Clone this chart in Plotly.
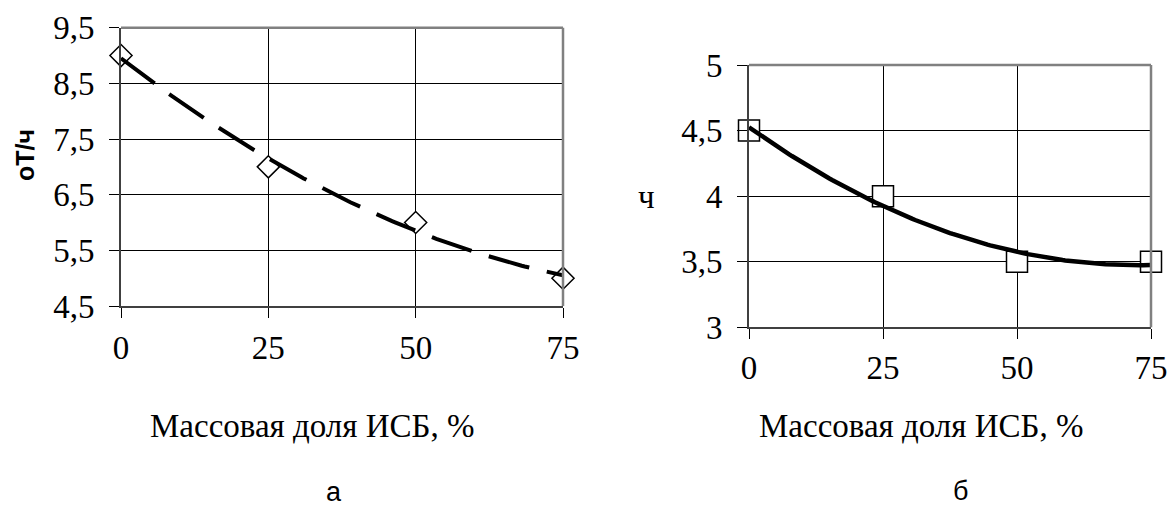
import numpy as np
import plotly.graph_objects as go

# ---- data ----
x_share = [0, 25, 50, 75]                 # Массовая доля ИСБ, %
y_left = [9.0, 7.0, 6.0, 5.0]             # оТ/ч
y_right = [4.5, 4.0, 3.5, 3.5]            # ч

x_ticks = [0, 25, 50, 75]
x_ticktext = ["0", "25", "50", "75"]
yl_ticks = [4.5, 5.5, 6.5, 7.5, 8.5, 9.5]
yl_ticktext = ["4,5", "5,5", "6,5", "7,5", "8,5", "9,5"]
yr_ticks = [3, 3.5, 4, 4.5, 5]
yr_ticktext = ["3", "3,5", "4", "4,5", "5"]

W, H = 1169, 508

def px(v):
    return v / W

def py(v):
    return 1 - v / H

# polynomial (2nd order) trendlines computed from the data, as in the source chart
xs = np.linspace(0, 75, 151)
fit_l = np.polyval(np.polyfit(x_share, y_left, 2), xs)
fit_r = np.polyval(np.polyfit(x_share, y_right, 2), xs)

SERIF = "Liberation Serif"
SANS = "Liberation Sans"
FS = 33

fig = go.Figure()

fig.add_trace(go.Scatter(
    x=x_share, y=y_left, mode="markers", xaxis="x", yaxis="y",
    marker=dict(symbol="diamond", size=17, color="white",
                line=dict(color="black", width=1.5)),
    cliponaxis=False, showlegend=False))
fig.add_trace(go.Scatter(
    x=xs, y=fit_l, mode="lines", xaxis="x", yaxis="y",
    line=dict(color="black", width=4, dash="42px,18px"),
    cliponaxis=False, showlegend=False))

fig.add_trace(go.Scatter(
    x=x_share, y=y_right, mode="markers", xaxis="x2", yaxis="y2",
    marker=dict(symbol="square", size=21, color="white",
                line=dict(color="black", width=1.5)),
    cliponaxis=False, showlegend=False))
fig.add_trace(go.Scatter(
    x=xs, y=fit_r, mode="lines", xaxis="x2", yaxis="y2",
    line=dict(color="black", width=4.5),
    cliponaxis=False, showlegend=False))

axis_common = dict(
    showgrid=True, gridcolor="black", gridwidth=1,
    showline=True, linecolor="#404040", linewidth=2,
    ticks="outside", ticklen=10, tickwidth=1, tickcolor="black",
    tickfont=dict(family=SERIF, size=FS, color="black"),
    zeroline=False, automargin=False, fixedrange=True,
)

fig.update_layout(
    width=W, height=H,
    margin=dict(l=0, r=0, t=0, b=0),
    paper_bgcolor="white", plot_bgcolor="white",
    showlegend=False,
    xaxis=dict(axis_common, domain=[px(121), px(563)], range=[0, 75],
               tickvals=x_ticks, ticktext=x_ticktext, anchor="y",
               ticklabelstandoff=1),
    yaxis=dict(axis_common, domain=[py(306), py(27.7)], range=[4.5, 9.5],
               tickvals=yl_ticks, ticktext=yl_ticktext, anchor="x",
               ticklabelstandoff=8),
    xaxis2=dict(axis_common, domain=[px(749), px(1151)], range=[0, 75],
                tickvals=x_ticks, ticktext=x_ticktext, anchor="y2",
                ticklabelstandoff=0),
    yaxis2=dict(axis_common, domain=[py(327.3), py(65)], range=[3, 5],
                tickvals=yr_ticks, ticktext=yr_ticktext, anchor="x2",
                ticklabelstandoff=8),
)

# grey top/right frame
for xr, yr in (("x", "y"), ("x2", "y2")):
    fig.add_shape(type="line", xref=f"{xr} domain", yref=f"{yr} domain",
                  x0=0, x1=1, y0=1, y1=1, line=dict(color="#808080", width=2.5))
    fig.add_shape(type="line", xref=f"{xr} domain", yref=f"{yr} domain",
                  x0=1, x1=1, y0=0, y1=1, line=dict(color="#808080", width=2.5))

ann = [
    dict(text="<b>оТ/ч</b>", x=px(25), y=py(155), textangle=-90,
         font=dict(family=SANS, size=25, color="black")),
    dict(text="ч", x=px(646), y=py(197),
         font=dict(family=SERIF, size=FS, color="black")),
    dict(text="Массовая доля ИСБ, %", x=px(312), y=py(426),
         font=dict(family=SERIF, size=FS, color="black")),
    dict(text="Массовая доля ИСБ, %", x=px(921), y=py(426),
         font=dict(family=SERIF, size=FS, color="black")),
    dict(text="а", x=px(334), y=py(492),
         font=dict(family=SANS, size=27, color="black")),
    dict(text="б", x=px(960), y=py(491),
         font=dict(family=SANS, size=27, color="black")),
]
for a in ann:
    fig.add_annotation(xref="paper", yref="paper", showarrow=False,
                       xanchor="center", yanchor="middle", **a)

fig.write_html(
    "out.html",
    config={"displayModeBar": False},
    post_script="document.body.style.margin='0px';"
                "document.body.style.overflow='hidden';",
)
